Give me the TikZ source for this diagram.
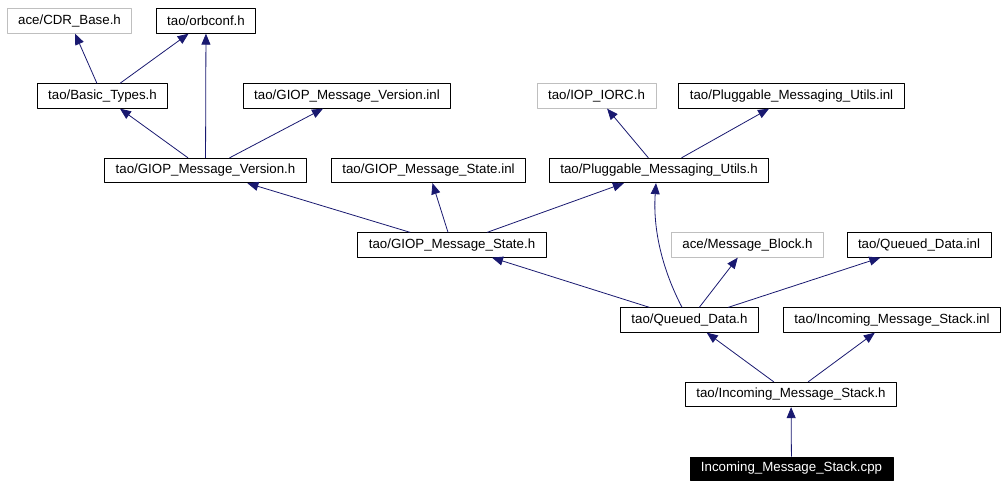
\documentclass[tikz,border=0pt]{standalone}
\usepackage{fontspec}
\setmainfont{Liberation Sans}
\usetikzlibrary{arrows.meta}
\definecolor{edgeblue}{RGB}{25,25,112}
\definecolor{lightgray}{RGB}{191,191,191}
\begin{document}
\begin{tikzpicture}[x=1pt, y=-1pt, font=\fontsize{13.3}{15}\selectfont, line join=round,
	box/.style={draw=black, line width=0.8pt, inner xsep=11pt, inner ysep=0pt, minimum height=24.5pt},
	extbox/.style={box, draw=lightgray},
	mainbox/.style={box, fill=black, text=white, minimum height=23pt},
	dep/.style={draw=edgeblue, line width=0.8pt, -{Triangle[length=11pt,width=9pt]}}]
	\useasboundingbox (0,0) rectangle (1008,488);
	\node[extbox] (cdr) at (69.5,21) {ace/CDR\_Base.h};
	\node[box] (orbconf) at (206,21) {tao/orbconf.h};
	\node[box] (basic) at (102.5,96) {tao/Basic\_Types.h};
	\node[box] (gmvinl) at (347,96) {tao/GIOP\_Message\_Version.inl};
	\node[extbox] (iorc) at (596.5,96) {tao/IOP\_IORC.h};
	\node[box] (pmuinl) at (791.5,96) {tao/Pluggable\_Messaging\_Utils.inl};
	\node[box] (gmvh) at (205.5,170.5) {tao/GIOP\_Message\_Version.h};
	\node[box] (gmsinl) at (428.5,170.5) {tao/GIOP\_Message\_State.inl};
	\node[box] (pmuh) at (659,170.5) {tao/Pluggable\_Messaging\_Utils.h};
	\node[box] (gmsh) at (452,245) {tao/GIOP\_Message\_State.h};
	\node[extbox] (mblock) at (747.5,245) {ace/Message\_Block.h};
	\node[box] (qdinl) at (919,245) {tao/Queued\_Data.inl};
	\node[box] (qdh) at (689.5,320) {tao/Queued\_Data.h};
	\node[box] (imsinl) at (892,320) {tao/Incoming\_Message\_Stack.inl};
	\node[box] (imsh) at (791,394.5) {tao/Incoming\_Message\_Stack.h};
	\node[mainbox] (cpp) at (791.5,468.5) {Incoming\_Message\_Stack.cpp};
	\foreach \a/\b in {basic/cdr, basic/orbconf, gmvh/basic, gmvh/orbconf, gmvh/gmvinl, gmsh/gmvh, gmsh/gmsinl, gmsh/pmuh, pmuh/iorc, pmuh/pmuinl, qdh/gmsh, qdh/mblock, qdh/qdinl, imsh/qdh, imsh/imsinl, cpp/imsh}
		\draw[dep] (\a) -- (\b);
	\draw[dep] ([xshift=-7.5pt]qdh.north) .. controls (660,265) and (653,225) .. ([xshift=-3pt]pmuh.south);
\end{tikzpicture}
\end{document}
